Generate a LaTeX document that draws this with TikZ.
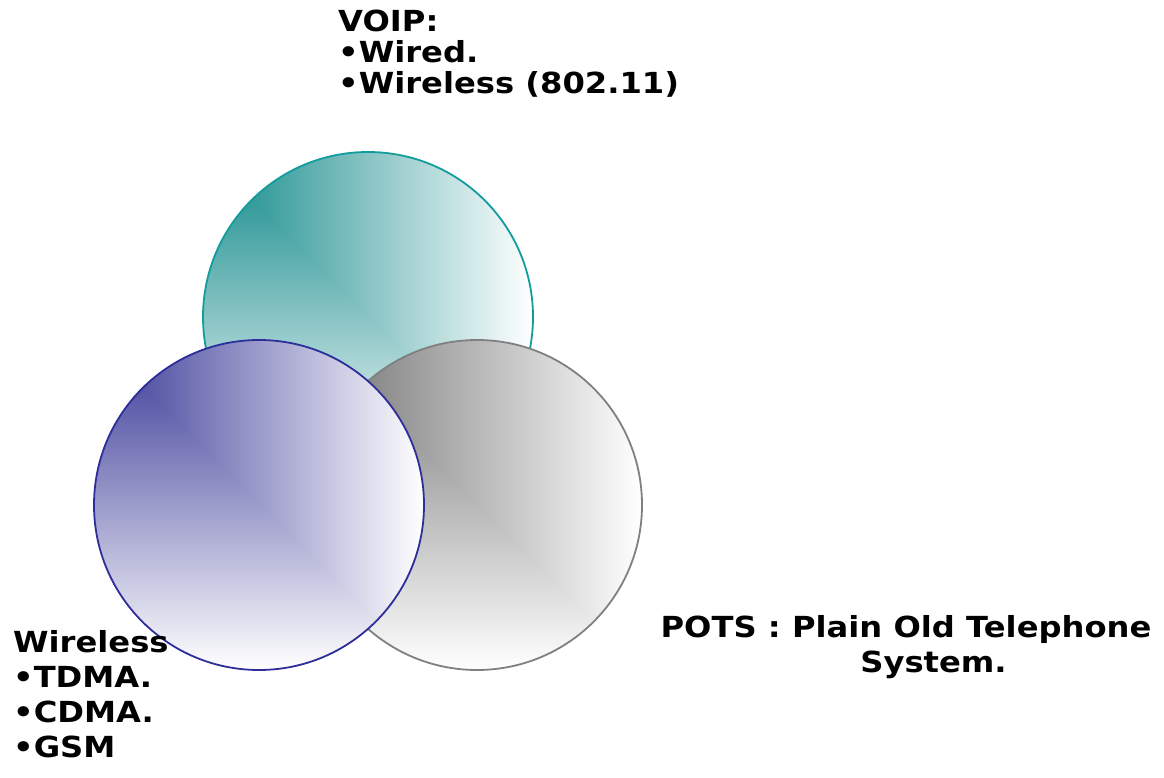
\documentclass[tikz,border=0pt]{standalone}
\usepackage{fontspec}
\setmainfont{DejaVu Sans}[FakeStretch=1.11]
\usetikzlibrary{positioning}

\definecolor{voipDark}{HTML}{118989}
\definecolor{voipMid}{HTML}{BCD8D8}
\definecolor{voipEdge}{HTML}{129C9C}
\definecolor{potsDark}{HTML}{717171}
\definecolor{potsMid}{HTML}{CFCFCF}
\definecolor{potsEdge}{HTML}{808080}
\definecolor{wlDark}{HTML}{383897}
\definecolor{wlMid}{HTML}{C6C6DE}
\definecolor{wlEdge}{HTML}{2E2E9A}

\begin{document}
\begin{tikzpicture}[x=1pt, y=1pt]
		\tikzstyle{Ring} = [circle, minimum size=330pt, inner sep=0pt, line width=1.8pt]
		\tikzstyle{Label} = [inner sep=0pt, align=left, anchor=base west]
		
		\useasboundingbox (0,0) rectangle (1164,777);
		
		% teal (VOIP), gray (POTS), blue (wireless), back to front
		\foreach \name/\cx/\cy/\dark/\mid/\edge in {voip/368/460/voipDark/voipMid/voipEdge, pots/477/272/potsDark/potsMid/potsEdge, wireless/259/272/wlDark/wlMid/wlEdge}{
			\begin{scope}
				\clip (\cx,\cy) circle (165pt);
				\shade[top color=\dark, middle color=\mid, bottom color=white] (\cx-165,\cy-165) rectangle (\cx+165,\cy+165);
				\shade[left color=\dark, middle color=\mid, right color=white] (\cx-165,\cy+165) -- (\cx+165,\cy+165) -- (\cx+165,\cy-165) -- cycle;
			\end{scope}
			\node (\name) [Ring, draw=\edge] at (\cx,\cy) {};
		}
		
		% base anchor = baseline of the last line
		\node (voipText) [Label, font=\bfseries\fontsize{29}{31}\selectfont] at (338,683) {VOIP:\\•Wired.\\•Wireless (802.11)};
		\node (wirelessText) [Label, font=\bfseries\fontsize{29}{34.7}\selectfont] at (13,20) {Wireless\\•TDMA.\\•CDMA.\\•GSM};
		\node (potsText) [Label, anchor=base, align=center, font=\bfseries\fontsize{29}{35}\selectfont] at (906,105) {POTS : Plain Old Telephone\\\hspace*{55pt}System.};
\end{tikzpicture}
\end{document}
